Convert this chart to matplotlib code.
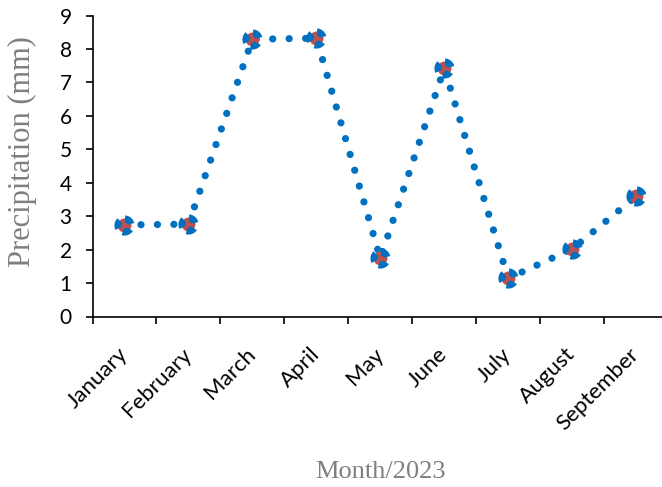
import matplotlib
matplotlib.use("Agg")
import matplotlib.pyplot as plt
import numpy as np
from matplotlib.path import Path

months = ["January", "February", "March", "April", "May", "June", "July", "August", "September"]
precip = [2.74, 2.76, 8.29, 8.32, 1.74, 7.42, 1.14, 2.02, 3.59]

BLUE = "#0070C0"
RED = "#C0504D"
GREY = "#7F7F7F"


def pinwheel(centers=(50, 170, 290), span=72, r_in=0.3):
    # three thick arcs around a centre, like excel's dotted marker outline
    parts = []
    for c in centers:
        t = np.radians(np.linspace(c - span / 2, c + span / 2, 20))
        outer = np.column_stack([np.cos(t), np.sin(t)])
        inner = r_in * outer[::-1]
        verts = np.vstack([outer, inner, outer[:1]])
        codes = [Path.MOVETO] + [Path.LINETO] * (len(verts) - 2) + [Path.CLOSEPOLY]
        parts.append(Path(verts, codes))
    return Path.make_compound_path(*parts)


fig = plt.figure(figsize=(6.62, 4.87), dpi=100)
ax = fig.add_axes([92.5 / 662, 170.5 / 487, 575.6 / 662, 301 / 487])

x = np.arange(len(months)) + 0.5
ax.plot(x, precip, color=BLUE, lw=5.2, linestyle=(0, (0.01, 2.27)),
        dash_capstyle="round", zorder=2)
ax.plot(x, precip, linestyle="none", marker="o", ms=10, mfc=RED, mec="none", zorder=3)
ax.plot(x, precip, linestyle="none", marker=pinwheel(), ms=14.5, mfc=BLUE, mec="none", zorder=4)

ax.set_xlim(0, len(months))
ax.set_ylim(0, 9)
ax.set_yticks(range(10))
ax.set_xticks(np.arange(len(months) + 1))
ax.set_xticklabels([])
ax.set_xticks(x, minor=True)
ax.set_xticklabels(months, minor=True, rotation=45, ha="right", va="center",
                   rotation_mode="anchor", fontfamily="Lato", fontsize=16)
ax.tick_params(axis="x", which="minor", length=0, pad=25)
ax.tick_params(axis="x", which="major", length=5, width=1.2, direction="out")
ax.tick_params(axis="y", length=5, width=1.2, direction="out", pad=10, labelsize=15)
for lab in ax.get_yticklabels():
    lab.set_fontfamily("Lato")

for side in ("top", "right"):
    ax.spines[side].set_visible(False)
for side in ("left", "bottom"):
    ax.spines[side].set_linewidth(1.2)
    ax.spines[side].set_color("black")

fig.text(22 / 662, 1 - 152 / 487, "Precipitation (mm)", rotation=90, ha="center", va="center",
         fontfamily="Liberation Serif", fontsize=22, color=GREY)
fig.text(380 / 662, 1 - 472 / 487, "Month/2023", ha="center", va="center",
         fontfamily="Liberation Serif", fontsize=19, color=GREY)

fig.savefig("out.png", dpi=100)
